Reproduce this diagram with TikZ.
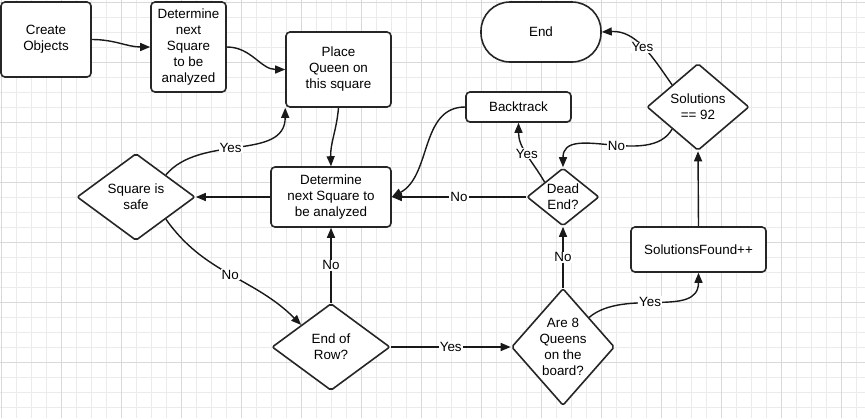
\documentclass[tikz,border=0pt]{standalone}
\usepackage{fontspec}
\setmainfont{Liberation Sans}
\usetikzlibrary{arrows.meta,shapes.geometric}
\tikzset{
	gridminor/.style={draw=black!8, line width=0.8pt},
	gridmajor/.style={draw=black!15, line width=0.8pt},
	procbox/.style={draw=black!85, line width=1.6pt, rounded corners=4pt, fill=white, align=center, inner sep=0pt},
	decision/.style={diamond, draw=black!85, line width=1.6pt, rounded corners=2pt, fill=white, align=center, inner sep=0pt},
	terminal/.style={draw=black!85, line width=1.6pt, rounded corners=29pt, fill=white, inner sep=0pt},
	flow/.style={draw=black!90, line width=1.4pt, -{Triangle[length=10pt,width=8pt]}},
	answer/.style={fill=white, inner sep=1pt},
}
\begin{document}
\begin{tikzpicture}[x=1pt, y=1pt, every node/.style={font=\fontsize{13.4}{16}\selectfont}]
		\def\gw{865};
		\def\gh{418};
		\useasboundingbox (0,0) rectangle (\gw,-\gh);
		\fill[white] (0,0) rectangle (\gw,-\gh);
		\foreach \x in {1,16,...,865} \draw[gridminor] (\x,0) -- (\x,-\gh);
		\foreach \y in {2,17,...,418} \draw[gridminor] (0,-\y) -- (\gw,-\y);
		\foreach \x in {1,61,...,865} \draw[gridmajor] (\x,0) -- (\x,-\gh);
		\foreach \y in {2,62,...,418} \draw[gridmajor] (0,-\y) -- (\gw,-\y);
		
		\node[procbox, minimum width=90, minimum height=75] (create) at (46,-39.5) {Create\\Objects};
		\node[procbox, minimum width=75, minimum height=90] (det1) at (188.5,-47) {Determine\\next\\Square\\to be\\analyzed};
		\node[procbox, minimum width=105, minimum height=75] (place) at (338.5,-69.5) {Place\\Queen on\\this square};
		\node[procbox, minimum width=120, minimum height=60] (det2) at (331,-197) {Determine\\next Square to\\be analyzed};
		\node[decision, minimum width=118, minimum height=87] (safe) at (136,-197) {Square is\\safe};
		\node[decision, minimum width=118, minimum height=87] (eor) at (331,-347) {End of\\Row?};
		\node[decision, minimum width=103, minimum height=117, shape aspect=0.88] (q8) at (563,-347) {Are 8\\Queens\\on the\\board?};
		\node[decision, minimum width=72, minimum height=58] (dead) at (563,-197) {Dead\\End?};
		\node[procbox, minimum width=105, minimum height=30] (back) at (518.5,-107) {Backtrack};
		\node[terminal, minimum width=120, minimum height=60] (stop) at (541,-32) {End};
		\node[decision, minimum width=102, minimum height=87] (sol) at (698,-107) {Solutions\\== 92};
		\node[procbox, minimum width=135, minimum height=45] (sf) at (698.5,-249.5) {SolutionsFound++};
		
		\draw[flow] (create.east) to[out=0,in=180] (det1.west);
		\draw[flow] (det1.east) to[out=0,in=180] (place.west);
		\draw[flow] (place.south) to[out=-95,in=92] (det2.north);
		\draw[flow] (det2.west) -- (safe.east);
		\draw[flow] (safe.north east) to[out=50,in=-90] node[answer, pos=0.45]{Yes} (place.south west);
		\draw[flow] (safe.south east) to[out=-55,in=135] node[answer]{No} (eor.north west);
		\draw[flow] (eor.north) -- node[answer]{No} (det2.south);
		\draw[flow] (eor.east) -- node[answer]{Yes} (q8.west);
		\draw[flow] (q8.north) -- node[answer]{No} (dead.south);
		\draw[flow] (dead.west) -- node[answer]{No} (det2.east);
		\draw[flow] (dead.north west) to[out=120,in=-90] node[answer]{Yes} (back.south);
		\draw[flow] (back.west) to[out=180,in=28] (det2.east);
		\draw[flow] (q8.north east) to[out=40,in=-90] node[answer, pos=0.45]{Yes} (sf.south);
		\draw[flow] (sf.north) -- (sol.south);
		\draw[flow] (sol.north west) to[out=125,in=3] node[answer]{Yes} (stop.east);
		\draw[flow] (sol.south west) to[out=-120,in=90] node[answer, pos=0.45]{No} (dead.north);
	\end{tikzpicture}
\end{document}
